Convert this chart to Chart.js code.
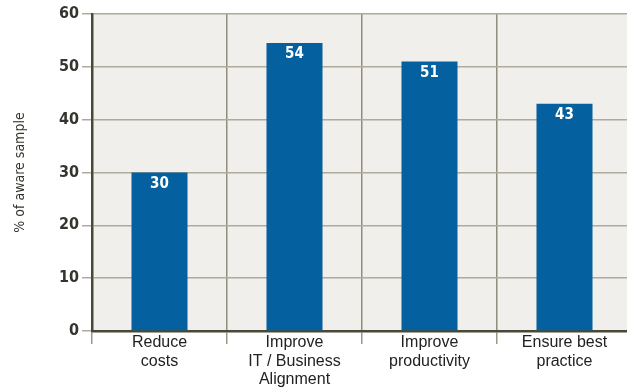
<!DOCTYPE html>
<html>
<head>
<meta charset="utf-8">
<script src="https://cdn.jsdelivr.net/npm/chart.js@4"></script>
<style>
  html, body { margin: 0; padding: 0; background: #fff; overflow: hidden; }
  #wrap { width: 632px; height: 389px; }
</style>
</head>
<body>
<div id="wrap"><canvas id="grafico" width="632" height="389"></canvas></div>
<script>
// Dados do gráfico
const categorias = [
    ['Reduce', 'costs'],
    ['Improve', 'IT / Business', 'Alignment'],
    ['Improve', 'productivity'],
    ['Ensure best', 'practice']
];
const valores = [30, 54.5, 51, 43];
const rotulosValores = ['30', '54', '51', '43'];
const ticksY = [0, 10, 20, 30, 40, 50, 60];
const tituloY = '% of aware sample';

const fonte = "'DejaVu Sans Condensed', 'Liberation Sans', sans-serif";
const fonteX = "'Liberation Sans', Arial, sans-serif";

// Fundo cinza da área do gráfico
const fundoPlugin = {
    id: 'fundo',
    beforeDraw(chart) {
        const { ctx, chartArea: a } = chart;
        ctx.save();
        ctx.fillStyle = '#f0efeb';
        ctx.fillRect(a.left, a.top, a.right - a.left, a.bottom - a.top);
        ctx.restore();
    }
};

// Rótulos brancos dentro das barras
const rotulosPlugin = {
    id: 'rotulos',
    afterDatasetsDraw(chart) {
        const { ctx } = chart;
        const meta = chart.getDatasetMeta(0);
        ctx.save();
        ctx.fillStyle = '#ffffff';
        ctx.font = 'bold 15px ' + fonte;
        ctx.textAlign = 'center';
        ctx.textBaseline = 'top';
        meta.data.forEach((bar, i) => {
            ctx.fillText(rotulosValores[i], bar.x, bar.y + 4);
        });
        ctx.restore();
    }
};

new Chart(document.getElementById('grafico').getContext('2d'), {
    type: 'bar',
    data: {
        labels: categorias,
        datasets: [{
            data: valores,
            backgroundColor: '#04609e',
            borderWidth: 0,
            categoryPercentage: 1,
            barPercentage: 0.415
        }]
    },
    options: {
        responsive: false,
        animation: false,
        layout: { padding: { top: 14, right: 0, left: 0, bottom: 0 } },
        plugins: {
            legend: { display: false },
            tooltip: { enabled: false }
        },
        scales: {
            x: {
                afterFit: s => { s.height = 58; },
                grid: {
                    offset: true,
                    color: '#8f8d7e',
                    lineWidth: 1.5,
                    tickLength: 13,
                    tickColor: '#9a9888'
                },
                border: { display: true, color: '#4a4838', width: 2.5 },
                ticks: {
                    color: '#222222',
                    font: { family: fonteX, size: 16, lineHeight: 1.13 },
                    padding: -10,
                    maxRotation: 0,
                    autoSkip: false
                }
            },
            y: {
                min: 0,
                max: 60,
                afterFit: s => { s.width = 92; },
                afterBuildTicks: s => { s.ticks = ticksY.map(v => ({ value: v })); },
                grid: {
                    color: '#aeab9c',
                    lineWidth: 1.5,
                    tickLength: 10,
                    tickColor: '#aeab9c'
                },
                border: { display: true, color: '#4a4838', width: 2.5 },
                ticks: {
                    color: '#35342e',
                    font: { family: fonte, size: 16, weight: 'bold' },
                    padding: 3
                },
                title: {
                    display: true,
                    text: tituloY,
                    color: '#35342e',
                    font: { family: fonte, size: 14 },
                    padding: { top: 12, bottom: 0 }
                }
            }
        }
    },
    plugins: [fundoPlugin, rotulosPlugin]
});
</script>
</body>
</html>
